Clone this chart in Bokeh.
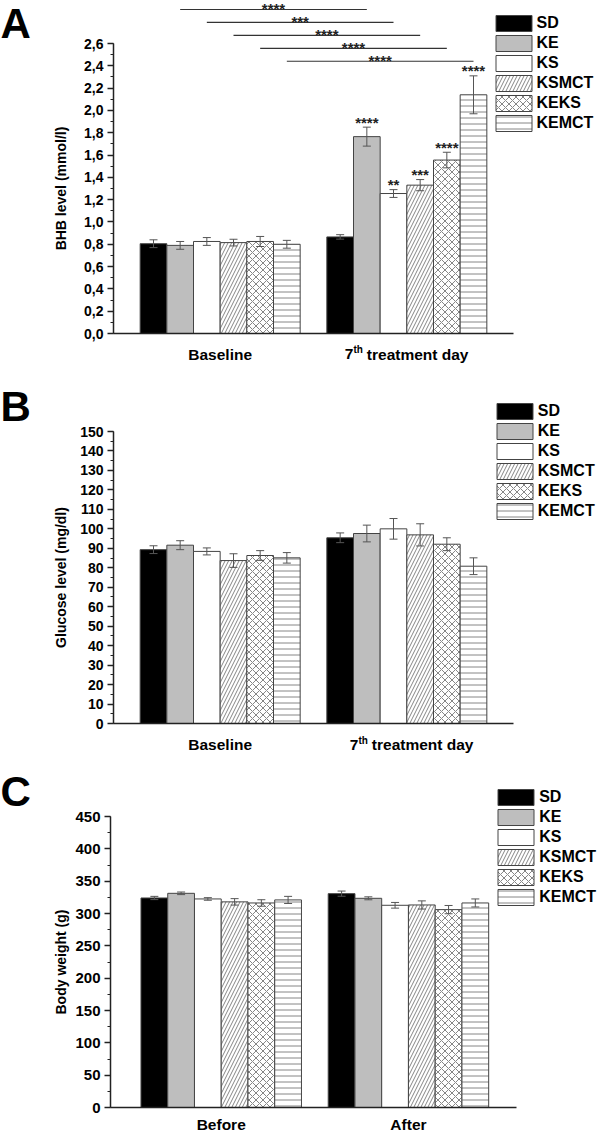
from bokeh.plotting import figure
from bokeh.layouts import column
from bokeh.models import (ColumnDataSource, Range1d, FixedTicker, Whisker, TeeHead,
                          Legend, LegendItem, Label, LabelSet, Arrow, LinearAxis,
                          CustomJSTickFormatter)
from bokeh.core.properties import value
from bokeh.embed import file_html
from bokeh.resources import INLINE

# ---------------- data ----------------
series = ["SD", "KE", "KS", "KSMCT", "KEKS", "KEMCT"]

bhb_groups = ["Baseline", "7th treatment day"]
bhb_baseline = [0.805, 0.79, 0.825, 0.815, 0.825, 0.80]
bhb_baseline_err = [0.035, 0.035, 0.035, 0.03, 0.045, 0.035]
bhb_day7 = [0.866, 1.765, 1.255, 1.33, 1.555, 2.14]
bhb_day7_err = [0.02, 0.085, 0.035, 0.05, 0.07, 0.17]
bhb_day7_sig = ["", "****", "**", "***", "****", "****"]
# baseline vs 7th day comparisons (same diet)
pair_series = ["KE", "KS", "KSMCT", "KEKS", "KEMCT"]
pair_sig = ["****", "***", "****", "****", "****"]

glu_groups = ["Baseline", "7th treatment day"]
glu_baseline = [89.3, 91.6, 88.4, 83.7, 86.3, 85.1]
glu_baseline_err = [2.0, 2.3, 1.8, 3.5, 2.5, 2.7]
glu_day7 = [95.4, 97.6, 100.0, 96.9, 92.1, 80.8]
glu_day7_err = [2.5, 4.3, 5.3, 5.7, 3.3, 4.3]

bw_groups = ["Before", "After"]
bw_before = [324.0, 331.2, 322.5, 318.0, 316.3, 321.0]
bw_before_err = [2.5, 2.0, 2.0, 5.0, 5.0, 5.5]
bw_after = [330.7, 323.5, 312.7, 313.2, 306.0, 316.3]
bw_after_err = [4.0, 2.3, 4.4, 6.3, 6.4, 6.2]

# ---------------- style ----------------
FONT = "Liberation Sans"
W = 597
AX = "#222222"
EDGE = "#444444"
STYLES = [
    dict(fill_color="black"),
    dict(fill_color="#bebebe"),
    dict(fill_color="white"),
    dict(fill_color="white", hatch_pattern="/", hatch_scale=7),
    dict(fill_color="white", hatch_pattern="x", hatch_scale=7),
    dict(fill_color="white", hatch_pattern="-", hatch_scale=6),
]


def sx_per(cfg):
    return (cfg["xr"][1] - cfg["xr"][0]) / cfg["fw"]


def sy_per(cfg):
    return (cfg["yr"][1] - cfg["yr"][0]) / cfg["fh"]


def to_data(cfg, ref_x, ref_y):
    ly = ref_y - cfg["shift"]
    x = cfg["xr"][0] + (ref_x - cfg["left"]) * sx_per(cfg)
    y = cfg["yr"][0] + (cfg["top"] + cfg["fh"] - ly) * sy_per(cfg)
    return x, y


def ref_x_of(cfg, xd):
    return cfg["left"] + (xd - cfg["xr"][0]) / sx_per(cfg)


def label(p, x, y, text, size, align="left", style="bold"):
    # y is the vertical middle of the text
    p.add_layout(Label(x=x, y=y, text=text, text_font=FONT, text_font_style=style,
                       text_font_size=size, text_align=align,
                       text_baseline="middle", text_color="black"))


def build(cfg, groups, vals, errs, ylabel, ticks, minor, tick_fs, ax_standoff,
          letter, letter_mid, group_mid, day7_dx=0, formatter=None):
    h = cfg["h"]
    x_start = cfg["xr"][0] - cfg["left"] * sx_per(cfg)
    x_end = cfg["xr"][0] + (W - cfg["left"]) * sx_per(cfg)
    y_start = cfg["yr"][0] - (h - cfg["top"] - cfg["fh"]) * sy_per(cfg)
    y_end = cfg["yr"][1] + cfg["top"] * sy_per(cfg)
    p = figure(width=W, height=h, output_backend="svg", toolbar_location=None,
               x_range=Range1d(x_start, x_end), y_range=Range1d(y_start, y_end),
               x_axis_type=None, y_axis_type=None, min_border=0)
    p.outline_line_color = None

    xa = LinearAxis(fixed_location=cfg["yr"][0], bounds=cfg["xr"],
                    ticker=FixedTicker(ticks=[]))
    xa.major_label_text_font_size = "0px"
    xa.major_tick_line_color = None
    xa.minor_tick_line_color = None
    xa.axis_line_width = 1.5
    xa.axis_line_color = AX
    p.add_layout(xa, "below")

    ya = LinearAxis(fixed_location=cfg["xr"][0], bounds=cfg["yr"],
                    ticker=FixedTicker(ticks=ticks, minor_ticks=minor))
    if formatter is not None:
        ya.formatter = formatter
    ya.axis_line_width = 1.5
    ya.axis_line_color = AX
    ya.major_tick_out = 6
    ya.major_tick_in = 0
    ya.minor_tick_out = 3
    ya.minor_tick_in = 0
    ya.major_tick_line_width = 1.5
    ya.major_tick_line_color = AX
    ya.minor_tick_line_color = AX
    ya.major_label_standoff = 4
    ya.major_label_text_font = FONT
    ya.major_label_text_font_style = "bold"
    ya.major_label_text_font_size = tick_fs
    ya.major_label_text_color = "black"
    ya.axis_label = ylabel
    ya.axis_label_text_font = FONT
    ya.axis_label_text_font_style = "bold"
    ya.axis_label_text_font_size = "14px"
    ya.axis_label_text_color = "black"
    ya.axis_label_standoff = ax_standoff
    p.add_layout(ya, "left")

    items = []
    for i, s in enumerate(series):
        xs = [1.5 + i + 7 * g for g in range(len(groups))]
        tops = [vals[g][i] for g in range(len(groups))]
        es = [errs[g][i] for g in range(len(groups))]
        src = ColumnDataSource(dict(x=xs, top=tops,
                                    upper=[t + e for t, e in zip(tops, es)],
                                    lower=[t - e for t, e in zip(tops, es)]))
        r = p.vbar(x="x", top="top", width=1, source=src, line_color=EDGE,
                   line_width=1, hatch_color="#666666", hatch_weight=0.8, **STYLES[i])
        items.append(LegendItem(label=s, renderers=[r]))
        p.add_layout(Whisker(source=src, base="x", upper="upper", lower="lower",
                             level="overlay", line_color="#555555", line_width=1,
                             upper_head=TeeHead(size=8, line_color="#555555", line_width=1),
                             lower_head=TeeHead(size=8, line_color="#555555", line_width=1)))

    leg = Legend(items=items, location=cfg["legend"], orientation="vertical",
                 glyph_width=45, glyph_height=20, label_height=20, spacing=0,
                 padding=0, margin=0, label_standoff=1,
                 label_text_font=FONT, label_text_font_style="bold",
                 label_text_font_size="16px", label_text_color="black",
                 border_line_color=None, background_fill_alpha=0)
    p.add_layout(leg)

    # panel letter
    lx, ly = to_data(cfg, 0, letter_mid)
    label(p, lx, ly, letter, "42px")

    # group labels under the axis
    _, gy = to_data(cfg, 0, group_mid)
    for g, name in enumerate(groups):
        xc = 4 + 7 * g
        if name.startswith("7th"):
            left_ref = ref_x_of(cfg, xc) - 62 + day7_dx
            x7, _ = to_data(cfg, left_ref, 0)
            xth, yth = to_data(cfg, left_ref + 8.6, group_mid - 4.3)
            xrest, _ = to_data(cfg, left_ref + 22, 0)
            label(p, x7, gy, "7", "15.5px")
            label(p, xth, yth, "th", "10px")
            label(p, xrest, gy, name[4:], "15.5px")
        else:
            label(p, xc, gy, name, "15.5px", align="center")
    return p


# ---------------- panel A ----------------
cfgA = dict(h=375, left=113, top=43, fw=400, fh=290, xr=(0, 15), yr=(0, 2.6),
            shift=0, legend=(490.5, 242.3))
ticksA = [round(0.2 * k, 1) for k in range(14)]
minorA = [round(0.1 * k, 1) for k in range(27)]
fmtA = CustomJSTickFormatter(code="return tick.toFixed(1).replace('.', ',');")
pA = build(cfgA, bhb_groups, [bhb_baseline, bhb_day7], [bhb_baseline_err, bhb_day7_err],
           "BHB level (mmol/l)", ticksA, minorA, "14px", 12, "A", 23, 353.5,
           day7_dx=0, formatter=fmtA)
pxA = 1 / sy_per(cfgA)

# stars above the 7th-day bars
keep = [i for i in range(len(series)) if bhb_day7_sig[i]]
star_src = ColumnDataSource(dict(
    x=[1.5 + i + 7 for i in keep],
    y=[bhb_day7[i] + bhb_day7_err[i] + 5.0 / pxA for i in keep],
    text=[bhb_day7_sig[i] for i in keep]))
pA.add_layout(LabelSet(source=star_src, x="x", y="y", text="text",
                       text_align="center", text_baseline="middle",
                       text_font=value(FONT), text_font_style="bold",
                       text_font_size="15px", text_color="#222222"))

# baseline vs 7th day comparison brackets
n_pairs = len(pair_series)
for k, s in enumerate(pair_series):
    i = series.index(s)
    level = 2.441 + 0.116 * (n_pairs - 1 - k)
    x0, x1 = 1.5 + i, 1.5 + i + 7
    pA.add_layout(Arrow(end=None, start=None, x_start=x0, y_start=level, x_end=x1,
                        y_end=level, line_color="#333333", line_width=1.2))
    pA.add_layout(Label(x=(x0 + x1) / 2, y=level + 1.2 / pxA, text=pair_sig[k],
                        text_font=FONT, text_font_style="bold", text_font_size="15px",
                        text_align="center", text_baseline="middle",
                        text_color="#222222"))

# ---------------- panel B ----------------
cfgB = dict(h=385, left=113, top=56, fw=400, fh=292, xr=(0, 15), yr=(0, 150),
            shift=375, legend=(491.8, 239.3))
ticksB = list(range(0, 151, 10))
minorB = list(range(0, 151, 5))
pB = build(cfgB, glu_groups, [glu_baseline, glu_day7], [glu_baseline_err, glu_day7_err],
           "Glucose level (mg/dl)", ticksB, minorB, "14px", 8, "B", 406, 744,
           day7_dx=5)

# ---------------- panel C ----------------
cfgC = dict(h=375, left=110, top=56, fw=406, fh=291, xr=(-0.14, 15.04), yr=(0, 450),
            shift=760, legend=(493.2, 228))
ticksC = list(range(0, 451, 50))
minorC = list(range(0, 451, 25))
pC = build(cfgC, bw_groups, [bw_before, bw_after], [bw_before_err, bw_after_err],
           "Body weight (g)", ticksC, minorC, "15px", 3, "C", 791, 1124)

layout = column(pA, pB, pC, spacing=0)
open("out.html", "w").write(file_html(layout, INLINE))
